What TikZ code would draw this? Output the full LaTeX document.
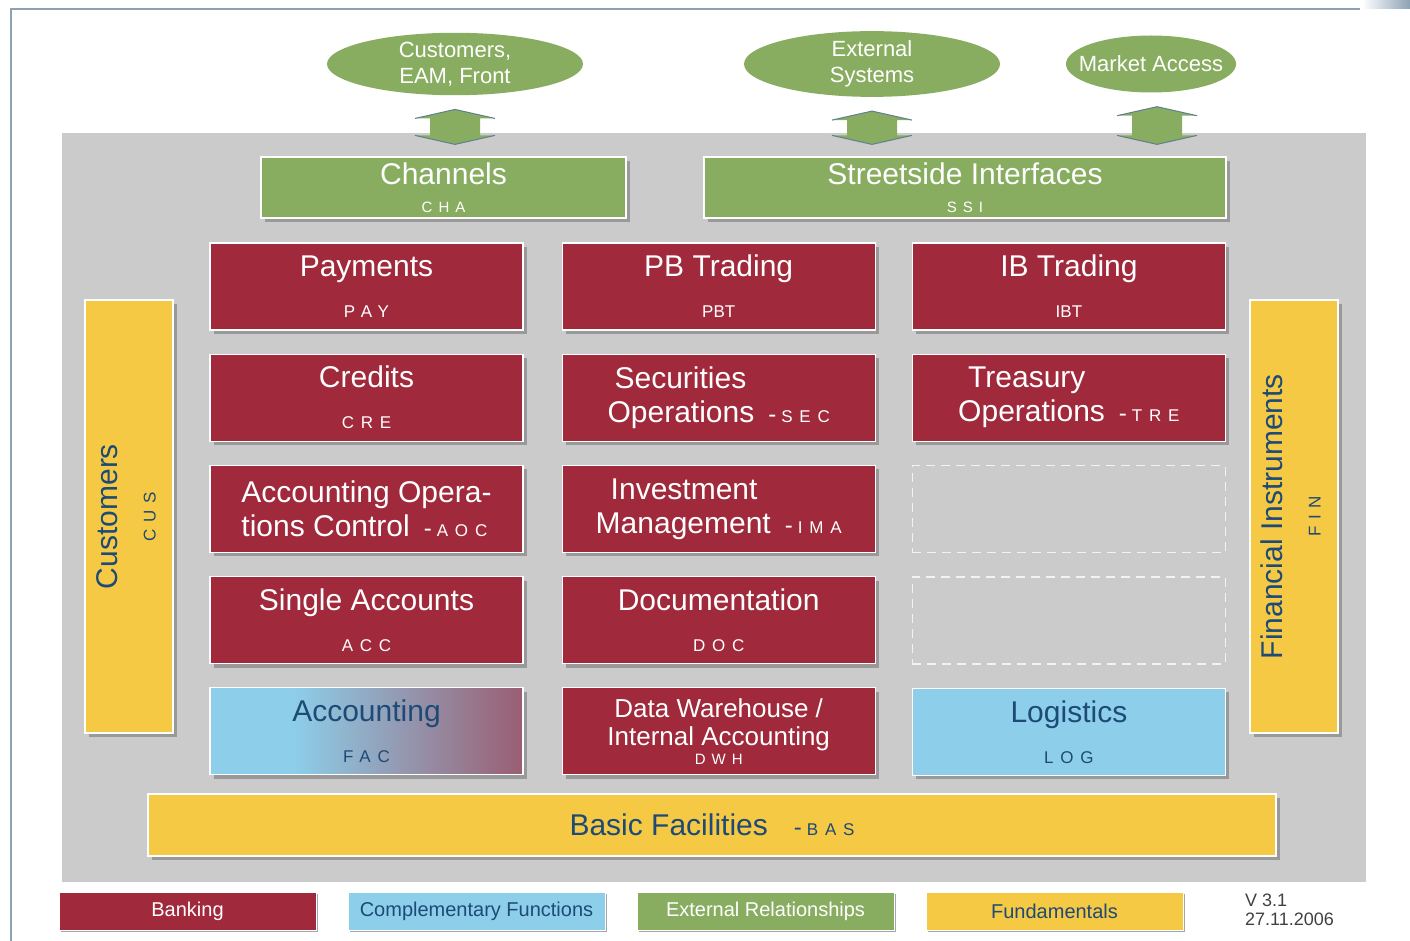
\documentclass[tikz,border=0pt]{standalone}
\usepackage{fontspec}
\setmainfont{Liberation Sans}
\newfontfamily\codefont[LetterSpace=40]{Liberation Sans}
\usepackage{tikz}
\usetikzlibrary{shapes,shadows,positioning,calc}

\definecolor{bankred}{HTML}{A0293B}
\definecolor{complblue}{HTML}{8DCFEA}
\definecolor{extgreen}{HTML}{88AD60}
\definecolor{fundyellow}{HTML}{F6C944}
\definecolor{textblue}{HTML}{1D4A76}
\definecolor{panelgrey}{HTML}{CBCBCB}
\definecolor{framegrey}{HTML}{8DA2B5}
\definecolor{headedge}{HTML}{5F7F90}

\pgfdeclarehorizontalshading{accshade}{100bp}{color(0bp)=(complblue); color(38bp)=(complblue); color(92bp)=(bankred); color(100bp)=(bankred)}

\newcommand{\boxcode}[1]{{\codefont\fontsize{17}{17}\selectfont #1}}
\newcommand{\codedash}{{\fontsize{24}{24}\selectfont -}\hspace{5pt}}
\newcommand{\linkarrow}[2]{%
  \fill[extgreen] let \p1=(#1), \p2=(#2) in
    (\x1,\y1) -- (\x1+40pt,\y1-9pt) -- (\x1+25pt,\y1-9pt) -- (\x1+25pt,\y2+9pt)
    -- (\x1+40pt,\y2+9pt) -- (\x1,\y2) -- (\x1-40pt,\y2+9pt) -- (\x1-25pt,\y2+9pt)
    -- (\x1-25pt,\y1-9pt) -- (\x1-40pt,\y1-9pt) -- cycle;
  \draw[headedge, line width=1pt] let \p1=(#1), \p2=(#2) in
    (\x1-40pt,\y1-9pt) -- (\x1,\y1) -- (\x1+40pt,\y1-9pt)
    (\x1-40pt,\y2+9pt) -- (\x1,\y2) -- (\x1+40pt,\y2+9pt);
}

\tikzstyle{unitbox} = [rectangle, draw=white, line width=1.2pt, inner sep=0pt,
    drop shadow={shadow xshift=4pt, shadow yshift=-4pt, fill=black!40, opacity=1}]
\tikzstyle{bankbox} = [unitbox, fill=bankred, text=white, align=center,
    minimum width=313pt, minimum height=87pt, font=\fontsize{30}{41}\selectfont]
\tikzstyle{twoline} = [align=left, font=\fontsize{30}{34}\selectfont]
\tikzstyle{complbox} = [bankbox, fill=complblue, text=textblue]
\tikzstyle{emptybox} = [rectangle, draw=white!90!gray, line width=1.5pt,
    dash pattern=on 9pt off 6pt, minimum width=313pt, minimum height=87pt]
\tikzstyle{extbox} = [unitbox, fill=extgreen, text=white, align=center,
    minimum height=61pt, font=\fontsize{30}{28}\selectfont]
\tikzstyle{fundbox} = [unitbox, fill=fundyellow, text=textblue]
\tikzstyle{extellipse} = [ellipse, fill=extgreen, text=white, inner sep=0pt,
    minimum height=57pt, align=center, font=\fontsize{22}{26}\selectfont]
\tikzstyle{legendbox} = [rectangle, draw=white, line width=1pt, inner sep=0pt,
    minimum width=257pt, minimum height=38pt, font=\fontsize{20}{20}\selectfont,
    drop shadow={shadow xshift=2pt, shadow yshift=-2pt, fill=black!35, opacity=1}]

\begin{document}
\begin{tikzpicture}[x=1pt, y=-1pt]
\useasboundingbox (0,0) rectangle (1410,941);

% frame and panel
\draw[framegrey, line width=1.5pt] (11,941) -- (11,9) -- (1360,9);
\shade[left color=white, right color=framegrey] (1362,0) rectangle (1410,9);
\fill[panelgrey] (62,133) rectangle (1366,882);

% external partners
\node[extellipse, minimum width=256pt] (ell1) at (455,64) {Customers,\\EAM, Front};
\node[extellipse, minimum width=256pt] (ell2) at (872,64) {External\\Systems};
\node[extellipse, minimum width=170pt, inner xsep=-12pt] (ell3) at (1151,64) {Market Access};

\node[extbox, minimum width=365pt] (cha) at (443.5,187.5) {Channels\\{\codefont\fontsize{15}{15}\selectfont CHA}};
\node[extbox, minimum width=522pt] (ssi) at (965,187.5) {Streetside Interfaces\\{\codefont\fontsize{15}{15}\selectfont SSI}};

\linkarrow{$(ell1.south)+(0,14)$}{$(ell1.south |- cha.north)+(0,-12)$}
\linkarrow{$(ell2.south)+(0,14)$}{$(ell2.south |- ssi.north)+(0,-12)$}
\linkarrow{$(ell3.south)+(6,14)$}{$(ell3.south |- ssi.north)+(6,-12)$}

% banking grid
\node[bankbox] (pay) at (366.5,286.5) {Payments\\\boxcode{PAY}};
\node[bankbox, right=38pt of pay] (pbt) {PB Trading\\{\fontsize{17}{17}\selectfont PBT}};
\node[bankbox, right=36pt of pbt] (ibt) {IB Trading\\{\fontsize{17}{17}\selectfont IBT}};

\node[bankbox, below=23pt of pay] (cre) {Credits\\\boxcode{CRE}};
\node[bankbox, twoline, below=23pt of pbt] (sec) {\hspace{7pt}Securities\\Operations\hspace{14pt}\codedash\boxcode{SEC}};
\node[bankbox, twoline, below=23pt of ibt] (tre) {\hspace{10pt}Treasury\\Operations\hspace{14pt}\codedash\boxcode{TRE}};

\node[bankbox, twoline, below=23pt of cre] (aoc) {Accounting Opera-\\tions Control\hspace{14pt}\codedash\boxcode{AOC}};
\node[bankbox, twoline, below=23pt of sec] (ima) {\hspace{15pt}Investment\\Management\hspace{14pt}\codedash\boxcode{IMA}};
\node[emptybox, below=23pt of tre] (emp1) {};

\node[bankbox, below=23pt of aoc] (acc) {Single Accounts\\\boxcode{ACC}};
\node[bankbox, below=23pt of ima] (doc) {Documentation\\\boxcode{DOC}};
\node[emptybox, below=23pt of emp1] (emp2) {};

\node[complbox, shading=accshade, below=23pt of acc] (fac) {Accounting\\\boxcode{FAC}};
\node[bankbox, below=23pt of doc, font=\fontsize{26}{28}\selectfont] (dwh) {Data Warehouse /\\Internal Accounting\\[-9pt]{\codefont\fontsize{15}{15}\selectfont DWH}};
\node[complbox, below=23pt of emp2] (log) {Logistics\\\boxcode{LOG}};

% fundamentals
\node[fundbox, minimum width=88pt, minimum height=433pt, font=\fontsize{30}{38}\selectfont] (cus) at (129,516.5)
    {\rotatebox{90}{\begin{tabular}{@{}c@{}}Customers\\\boxcode{CUS}\end{tabular}}};
\node[fundbox, minimum width=88pt, minimum height=433pt, font=\fontsize{30}{38}\selectfont] (fin) at (1294,516.5)
    {\rotatebox{90}{\begin{tabular}{@{}c@{}}Financial Instruments\\\boxcode{FIN}\end{tabular}}};
\node[fundbox, minimum width=1128pt, minimum height=62pt, font=\fontsize{30}{30}\selectfont] (bas) at (712,825)
    {Basic Facilities\hspace{26pt}\codedash\boxcode{BAS}};

% legend
\node[legendbox, fill=bankred, text=white] (leg1) at (187.5,911) {Banking};
\node[legendbox, fill=complblue, text=textblue, right=31pt of leg1] (leg2) {Complementary Functions};
\node[legendbox, fill=extgreen, text=white, right=31pt of leg2] (leg3) {External Relationships};
\node[legendbox, fill=fundyellow, text=textblue, right=31pt of leg3] (leg4) {Fundamentals};
\node[anchor=west, align=left, inner sep=0pt, text=black!75, font=\fontsize{18}{19}\selectfont] (ver) at (1245,910) {V 3.1\\27.11.2006};

\end{tikzpicture}
\end{document}
